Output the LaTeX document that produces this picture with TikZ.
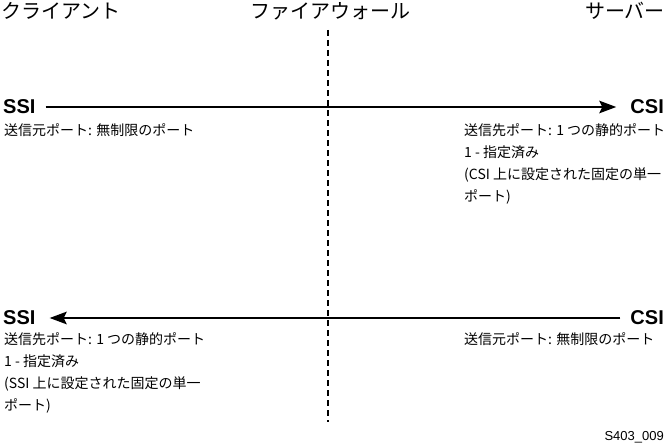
\documentclass[tikz,border=0pt]{standalone}
\usepackage{fontspec}
\setmainfont{Liberation Sans}
\newfontfamily\jp{Noto Sans CJK JP}
\usetikzlibrary{arrows.meta}
\tikzset{
  head/.style={font=\jp\fontsize{20}{22}\selectfont, inner sep=0pt},
  ep/.style={font=\bfseries\fontsize{20}{22}\selectfont, inner sep=0pt},
  body/.style={font=\jp\fontsize{14}{22}\selectfont, inner sep=0pt, align=left, text depth=0pt},
  conn/.style={line width=2pt, -{Stealth[length=17pt,width=12.5pt,inset=3pt]}},
  wall/.style={line width=1.6pt, dash pattern=on 6pt off 4pt}
}
\begin{document}
\begin{tikzpicture}[x=1pt,y=-1pt]
\useasboundingbox (0,0) rectangle (666,444);
\node[head, anchor=west] (cl) at (1,11) {クライアント};
\node[head] (fw) at (330,11) {ファイアウォール};
\node[head, anchor=east] (sv) at (665,11) {サーバー};
\coordinate (wtop) at (328,30);
\coordinate (wbot) at (328,422);
\draw[wall] (wtop) -- (wbot);

\node[ep, anchor=west] (ssi1) at (3,107) {SSI};
\node[ep, anchor=east] (csi1) at (664,107) {CSI};
\draw[conn] ([xshift=10pt]ssi1.east) -- ([xshift=-14pt]csi1.west);
\node[body, anchor=north west] (t1) at (4,123) {送信元ポート: 無制限のポート};
\node[body, anchor=north west] (t2) at (464,123) {送信先ポート: 1 つの静的ポート\\1 - 指定済み\\(CSI 上に設定された固定の単一\\ポート)};

\node[ep, anchor=west] (ssi2) at (3,318) {SSI};
\node[ep, anchor=east] (csi2) at (664,318) {CSI};
\draw[conn] ([xshift=-10pt]csi2.west) -- ([xshift=14pt]ssi2.east);
\node[body, anchor=north west] (t3) at (4,332) {送信先ポート: 1 つの静的ポート\\1 - 指定済み\\(SSI 上に設定された固定の単一\\ポート)};
\node[body, anchor=north west] (t4) at (464,332) {送信元ポート: 無制限のポート};

\node[font=\fontsize{13}{15}\selectfont, inner sep=0pt, anchor=east] (id) at (664,437) {S403\_009};
\end{tikzpicture}
\end{document}
